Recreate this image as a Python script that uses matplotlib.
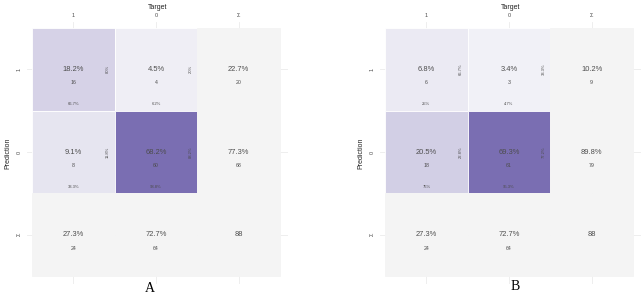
import matplotlib.pyplot as plt
import matplotlib as mpl
import numpy as np
from matplotlib.colors import LinearSegmentedColormap

# confusion matrices, rows = Prediction (1, 0), cols = Target (1, 0)
labels = ["1", "0", "\u03a3"]
counts_a = np.array([[16, 4], [8, 60]])
counts_b = np.array([[6, 3], [18, 61]])
panel_names = ["A", "B"]

plt.rcParams['font.family'] = ['Liberation Sans', 'DejaVu Sans']

cmap = LinearSegmentedColormap.from_list("purp", ["#F7F7FA", "#7A6EB2"])
txt_col = "#4D4D4D"
grid_col = "#EBEBEB"
sum_col = "#F4F4F4"

fig = plt.figure(figsize=(6.43, 2.98), dpi=100)
W, H = 643, 298
unit = 82.67


def fmt(p):
    s = f"{p:.1f}"
    if s.endswith(".0"):
        s = s[:-2]
    return s + "%"


def draw(ax, counts, name):
    total = counts.sum()
    row_sum = counts.sum(axis=1)
    col_sum = counts.sum(axis=0)
    vmax = counts.max()
    # gridlines behind tiles
    for k in range(3):
        ax.axhline(k, color=grid_col, lw=0.6, zorder=0)
        ax.axvline(k, color=grid_col, lw=0.6, zorder=0)
    for i in range(3):
        for j in range(3):
            if i < 2 and j < 2:
                c = cmap(counts[i, j] / vmax)
                ec = "white"
            else:
                c = sum_col
                ec = sum_col
            ax.add_patch(plt.Rectangle((j - 0.5, i - 0.5), 1, 1, facecolor=c,
                                       edgecolor=ec, lw=0.6, zorder=1))
    for i in range(2):
        for j in range(2):
            n = counts[i, j]
            ax.text(j, i, fmt(100 * n / total), ha="center", va="center",
                    fontsize=5.4, color=txt_col, zorder=3)
            ax.text(j, i + 0.165, str(n), ha="center", va="center",
                    fontsize=3.8, color=txt_col, zorder=3)
            ax.text(j, i + 0.42, fmt(100 * n / col_sum[j]), ha="center",
                    va="center", fontsize=3.0, color=txt_col, zorder=3)
            ax.text(j + 0.42, i, fmt(100 * n / row_sum[i]), ha="center",
                    va="center", fontsize=3.0, color=txt_col, rotation=90,
                    zorder=3)
    for i in range(2):
        ax.text(2, i, fmt(100 * row_sum[i] / total), ha="center", va="center",
                fontsize=5.4, color=txt_col, zorder=3)
        ax.text(2, i + 0.165, str(row_sum[i]), ha="center", va="center",
                fontsize=3.8, color=txt_col, zorder=3)
    for j in range(2):
        ax.text(j, 2, fmt(100 * col_sum[j] / total), ha="center", va="center",
                fontsize=5.4, color=txt_col, zorder=3)
        ax.text(j, 2 + 0.165, str(col_sum[j]), ha="center", va="center",
                fontsize=3.8, color=txt_col, zorder=3)
    ax.text(2, 2, str(total), ha="center", va="center", fontsize=5.4,
            color=txt_col, zorder=3)

    ax.set_xlim(-0.5 - 5 / unit, 2.5 + 8 / unit)
    ax.set_ylim(2.5 + 8 / unit, -0.5 - 6 / unit)
    ax.set_xticks(range(3))
    ax.set_xticklabels(labels)
    ax.set_yticks(range(3))
    ax.set_yticklabels(labels, rotation=90, va="center")
    ax.xaxis.tick_top()
    ax.xaxis.set_label_position("top")
    ax.tick_params(length=0, labelsize=4, colors=txt_col)
    ax.tick_params(axis="x", pad=3.0)
    ax.tick_params(axis="y", pad=4.0)
    ax.set_xlabel("Target", fontsize=5, color="#222222", labelpad=2.5)
    ax.set_ylabel("Prediction", fontsize=5, color="#222222", labelpad=4)
    for s in ax.spines.values():
        s.set_visible(False)


for k, (left, counts, name, lx, ly) in enumerate(
        [(27, counts_a, "A", 150, 289), (380, counts_b, "B", 515, 287)]):
    ax = fig.add_axes([left / W, 14 / H, 261 / W, 262 / H])
    draw(ax, counts, name)
    fig.text(lx / W, 1 - ly / H, name, ha="center", va="center",
             fontsize=10, family="Liberation Serif")

fig.savefig("out.png", dpi=100)
